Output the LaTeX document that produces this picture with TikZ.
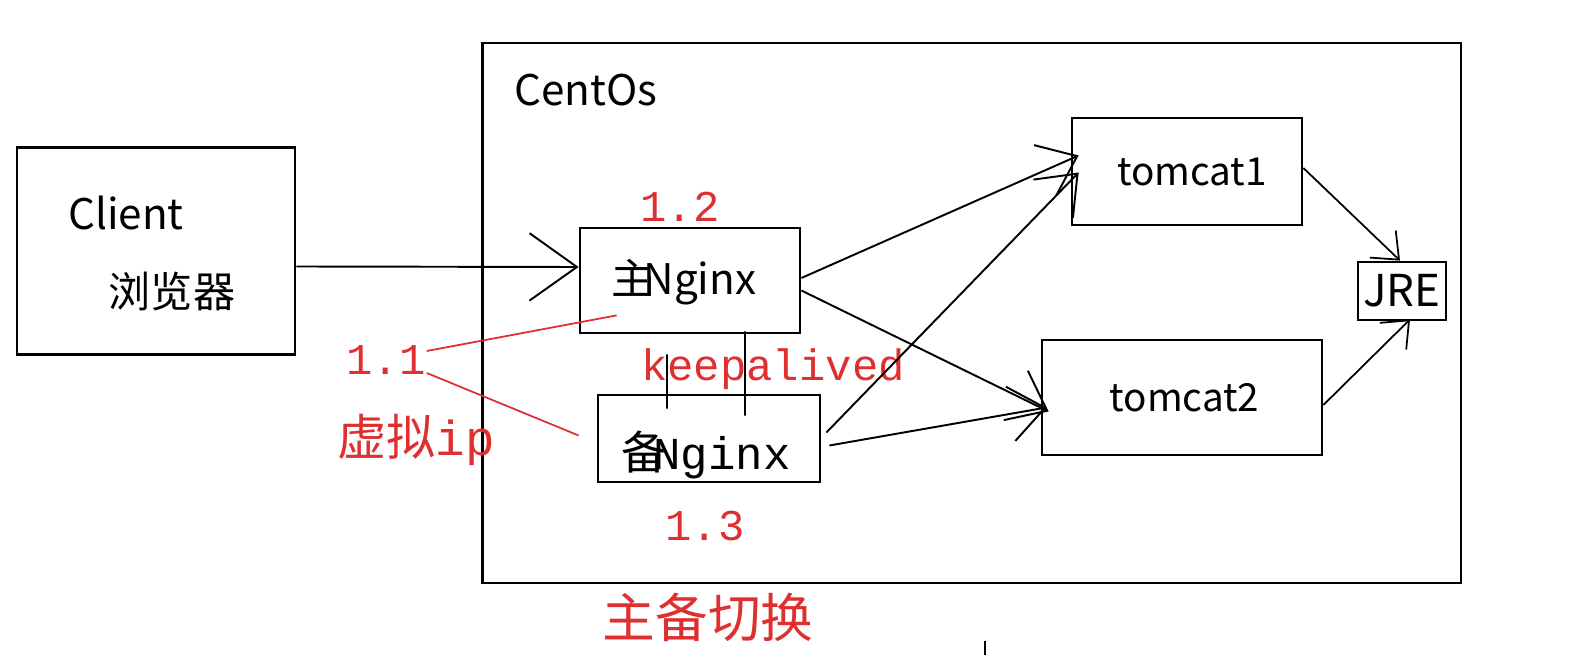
\documentclass[tikz,border=0pt]{standalone}
\usepackage{fontspec}
\setmainfont{Noto Sans CJK SC}
\newfontfamily\monofont{Liberation Mono}
\usepackage{xcolor}
\usepackage{tikz}
\usetikzlibrary{positioning,arrows.meta,calc}
\definecolor{annot}{RGB}{222,48,48}

\tikzset{
  box/.style={rectangle, draw, line width=1.6pt, inner sep=0pt},
  flow/.style={line width=1.1pt, -{Straight Barb[length=0.7cm,width=1.1cm,line width=1.1pt]}},
  smallflow/.style={line width=1pt, -{Straight Barb[length=0.45cm,width=0.75cm,line width=1pt]}},
  redtxt/.style={text=annot, font=\monofont\fontsize{25}{25}\selectfont},
  sans/.style={font=\fontsize{22}{22}\selectfont},
}

\begin{document}
\begin{tikzpicture}[x=0.02cm,y=-0.02cm]
    \useasboundingbox (0,0) rectangle (1584,668);
    % machines
    \node(client) [box, minimum width=5.56cm, minimum height=4.14cm] at (156,251) {};
    \node(clientname) [sans, font=\fontsize{24}{24}\selectfont] at (126,213) {Client};
    \node(browser) [sans, font=\fontsize{24}{24}\selectfont] at (172,292) {浏览器};
    \node(centos) [box, minimum width=19.58cm, minimum height=10.8cm] at (971.5,313) {};
    \node(centosname) [sans, font=\fontsize{24}{24}\selectfont] at (586,90) {CentOs};

    % nginx pair
    \node(master) [box, minimum width=4.4cm, minimum height=2.1cm] at (690,280.5) {};
    \node(mastername) [sans, font=\fontsize{24}{24}\selectfont] at (684,282) {主\hspace{-0.25em}Nginx};
    \node(backup) [box, minimum width=4.44cm, minimum height=1.74cm] at (709,438.5) {};
    \node(backupname) [font=\fontsize{26}{26}\selectfont] at (706,455) {备\hspace{-0.3em}{\monofont Nginx}};

    % tomcats and jre
    \node(tomcat1) [box, sans, minimum width=4.6cm, minimum height=2.14cm] at (1187,171.5) {\hspace{0.2cm}tomcat1};
    \node(tomcat2) [box, sans, minimum width=5.6cm, minimum height=2.3cm] at (1182,397.5) {\hspace{0.1cm}tomcat2};
    \node(jre) [box, font=\fontsize{25}{25}\selectfont, minimum width=1.76cm, minimum height=1.16cm] at (1402,291) {JRE};

    % red notes
    \node(vip) [redtxt] at (386,360) {1.1};
    \node(vipname) [text=annot, font=\fontsize{28}{28}\selectfont] at (416,440) {虚拟{\monofont ip}};
    \node(masterip) [redtxt] at (680,207) {1.2};
    \node(backupip) [redtxt] at (705,526) {1.3};
    \node(keepalived) [redtxt] at (773,369) {keepalived};
    \node(switch) [text=annot, font=\fontsize{30}{30}\selectfont] at (708,617) {主备切换};

    % connectors
    \draw[flow, -{Straight Barb[length=0.95cm,width=1.35cm,line width=1.1pt]}] ([yshift=-0.31cm]client.east) -- ([yshift=0.27cm]master.west);
    \draw[flow] ([yshift=0.05cm]master.east) -- ([xshift=0.16cm,yshift=0.32cm]tomcat1.west);
    \draw[flow] ([yshift=-0.2cm]master.east) -- ([xshift=0.16cm,yshift=-0.28cm]tomcat2.west);
    \draw[flow] ([xshift=0.1cm,yshift=0.12cm]backup.east) -- ([xshift=0.16cm,yshift=-0.02cm]tomcat1.west);
    \draw[flow] ([xshift=0.16cm,yshift=-0.14cm]backup.east) -- ([xshift=0.12cm,yshift=-0.2cm]tomcat2.west);
    \draw[smallflow] ([yshift=0.07cm]tomcat1.east) -- ([xshift=-0.04cm]jre.north);
    \draw[smallflow] ([yshift=-0.15cm]tomcat2.east) -- ([xshift=0.16cm,yshift=0.04cm]jre.south);

    % keepalived link
    \draw[line width=1.1pt] ([xshift=-0.46cm,yshift=-0.4cm]master.south) -- ([xshift=-0.84cm,yshift=-0.3cm]backup.north);
    \draw[line width=1.1pt] ([xshift=1.1cm,yshift=0.06cm]master.south) -- ([xshift=0.72cm,yshift=-0.44cm]backup.north);

    % virtual ip
    \draw[annot, line width=1pt] ([xshift=-0.1cm,yshift=0.18cm]vip.east) -- ($(master.south west)+(38,-19)$);
    \draw[annot, line width=1pt] ([xshift=-0.1cm,yshift=-0.26cm]vip.east) -- ($(backup.west)+(-18,-3)$);

    \draw[line width=1pt] (985,641) -- (985,655);
\end{tikzpicture}
\end{document}
